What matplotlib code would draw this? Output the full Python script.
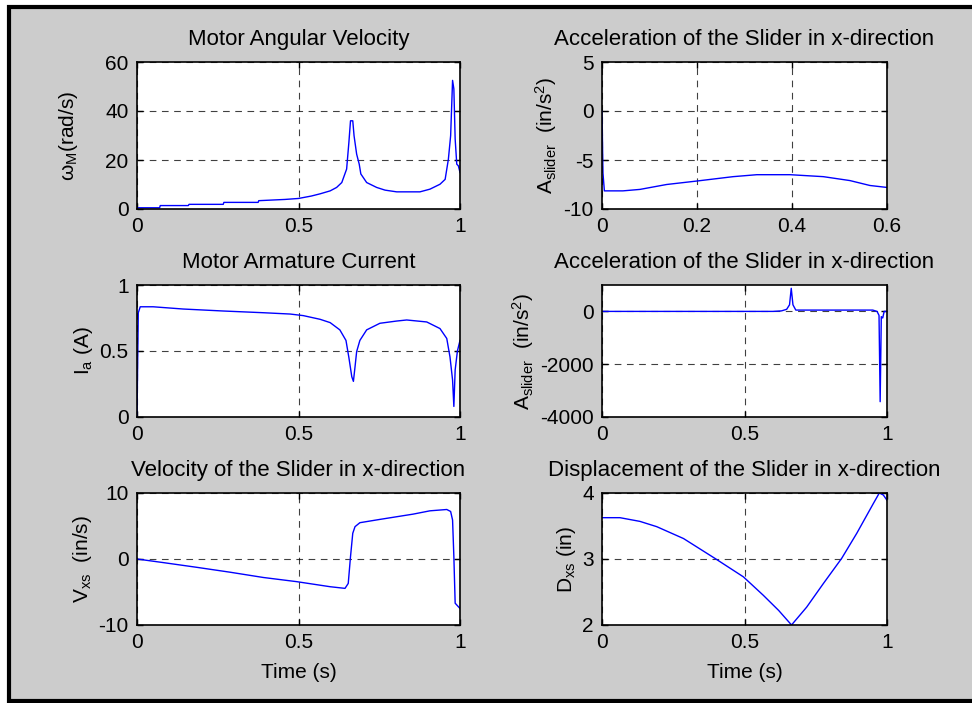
import matplotlib
matplotlib.use("Agg")
import matplotlib.pyplot as plt
from matplotlib.patches import Rectangle
from matplotlib.ticker import FormatStrFormatter, MultipleLocator

plt.rcParams['font.family'] = ['Liberation Sans', 'DejaVu Sans']
plt.rcParams['mathtext.fontset'] = 'custom'
plt.rcParams['mathtext.rm'] = 'Liberation Sans'
plt.rcParams['mathtext.it'] = 'Liberation Sans'

# ---------------- data ----------------
t1 = [0, 0.07, 0.072, 0.159, 0.161, 0.267, 0.269, 0.375, 0.377, 0.458, 0.5, 0.54, 0.567, 0.598,
      0.618, 0.634, 0.649, 0.656, 0.661, 0.668, 0.672, 0.68, 0.688, 0.693, 0.711, 0.742, 0.768,
      0.804, 0.876, 0.907, 0.938, 0.954, 0.964, 0.971, 0.977, 0.981, 0.985, 0.99, 0.995, 1.0]
w1 = [0.5, 0.5, 1.4, 1.4, 1.9, 1.9, 2.7, 2.7, 3.4, 3.9, 4.3, 5.3, 6.2, 7.4,
      8.8, 10.8, 16.3, 27.2, 36, 36, 29.9, 22.4, 18.3, 14.3, 10.8, 8.8, 7.7,
      7.0, 7.0, 8.1, 10.1, 12.1, 20.3, 29.9, 52.5, 49, 28.6, 18.3, 17.6, 14.9]

t2 = [0, 0.002, 0.005, 0.044, 0.08, 0.136, 0.199, 0.276, 0.326, 0.396, 0.466, 0.522, 0.564, 0.6]
a2 = [0.0, -6.3, -8.15, -8.15, -8.0, -7.5, -7.15, -6.7, -6.5, -6.5, -6.7, -7.1, -7.6, -7.8]

t3 = [0, 0.004, 0.01, 0.05, 0.143, 0.267, 0.391, 0.474, 0.515, 0.567, 0.598, 0.628, 0.647, 0.656,
      0.665, 0.67, 0.675, 0.68, 0.69, 0.711, 0.752, 0.804, 0.835, 0.897, 0.938, 0.959, 0.969,
      0.977, 0.981, 0.985, 0.992, 1.0]
i3 = [0.0, 0.79, 0.835, 0.835, 0.818, 0.803, 0.79, 0.78, 0.768, 0.74, 0.715, 0.66, 0.58, 0.45,
      0.305, 0.27, 0.38, 0.495, 0.58, 0.66, 0.71, 0.727, 0.735, 0.72, 0.67, 0.595, 0.455,
      0.28, 0.08, 0.356, 0.5, 0.58]

t4 = [0, 0.6, 0.63, 0.648, 0.658, 0.664, 0.67, 0.68, 0.95, 0.965, 0.972, 0.976, 0.98, 0.985, 0.99, 1.0]
a4 = [0, 0, 20, 80, 250, 875, 250, 50, 50, 0, -150, -3420, -200, -250, 0, 0]

t5 = [0, 0.082, 0.185, 0.288, 0.391, 0.494, 0.598, 0.644, 0.654, 0.661, 0.668, 0.675, 0.69,
      0.752, 0.855, 0.907, 0.959, 0.971, 0.977, 0.981, 0.985, 1.0]
v5 = [0.0, -0.55, -1.26, -2.0, -2.8, -3.43, -4.2, -4.45, -3.7, 0.35, 3.9, 4.9, 5.5,
      6.0, 6.8, 7.3, 7.5, 7.2, 5.9, 0.35, -6.7, -7.5]

t6 = [0, 0.063, 0.133, 0.192, 0.286, 0.396, 0.496, 0.566, 0.62, 0.665, 0.718, 0.777, 0.841,
      0.894, 0.952, 0.973, 0.987, 1.0]
d6 = [3.626, 3.626, 3.57, 3.49, 3.31, 3.01, 2.73, 2.45, 2.22, 2.0, 2.27, 2.63, 3.01,
      3.39, 3.84, 4.0, 3.97, 3.89]

# ---------------- figure ----------------
W, H = 972, 703
fig = plt.figure(figsize=(W / 100, H / 100), dpi=100, facecolor='white')
fig.patches.append(Rectangle((9 / W, 2 / H), 1.5, (701 - 7) / H, transform=fig.transFigure,
                             facecolor='#cccccc', edgecolor='black', linewidth=3, zorder=-10))

lx, lw_ = 137 / W, 323 / W
rx, rw = 602 / W, 285 / W
rows = [(62, 209), (285, 417), (493, 625)]

def pos(col, row):
    top, bot = rows[row]
    x, w = (lx, lw_) if col == 0 else (rx, rw)
    return [x, (H - bot) / H, w, (bot - top) / H]

specs = [
    (0, 0, t1, w1, 'Motor Angular Velocity', r'ω$_\mathregular{M}$(rad/s)', (0, 1), 0.5, (0, 60), 20, False, 18),
    (1, 0, t2, a2, 'Acceleration of the Slider in x-direction', r'A$_\mathregular{slider}$  (in/s$^\mathregular{2}$)', (0, 0.6), 0.2, (-10, 5), 5, False, 3),
    (0, 1, t3, i3, 'Motor Armature Current', r'I$_\mathregular{a}$ (A)', (0, 1), 0.5, (0, 1), 0.5, False, 3),
    (1, 1, t4, a4, 'Acceleration of the Slider in x-direction', r'A$_\mathregular{slider}$  (in/s$^\mathregular{2}$)', (0, 1), 0.5, (-4000, 1000), 2000, False, 3),
    (0, 2, t5, v5, 'Velocity of the Slider in x-direction', r'V$_\mathregular{xs}$  (in/s)', (0, 1), 0.5, (-10, 10), 10, True, 3),
    (1, 2, t6, d6, 'Displacement of the Slider in x-direction', r'D$_\mathregular{xs}$ (in)', (0, 1), 0.5, (2, 4), 1, True, 3),
]

FS = 15
for col, row, tx, yy, title, ylab, xl, xs, yl, ys, xlab, lpad in specs:
    ax = fig.add_axes(pos(col, row))
    ax.set_facecolor('white')
    ax.plot(tx, yy, color='#0000ff', lw=1.0, clip_on=True)
    ax.set_xlim(*xl)
    ax.set_ylim(*yl)
    ax.xaxis.set_major_locator(MultipleLocator(xs))
    ax.yaxis.set_major_locator(MultipleLocator(ys))
    ax.xaxis.set_major_formatter(FormatStrFormatter('%g'))
    ax.yaxis.set_major_formatter(FormatStrFormatter('%g'))
    ax.grid(True, color='black', linestyle=(0, (6, 5)), linewidth=0.8, alpha=0.75)
    ax.tick_params(direction='in', top=True, right=True, length=4, width=1, labelsize=FS)
    ax.tick_params(axis='x', pad=5.5)
    ax.tick_params(axis='y', pad=6)
    for s in ax.spines.values():
        s.set_linewidth(1.2)
    ax.set_title(title, fontsize=16, pad=12.5)
    ax.set_ylabel(ylab, fontsize=FS, labelpad=lpad)
    if xlab:
        ax.set_xlabel('Time (s)', fontsize=FS, labelpad=8.5)

fig.savefig('out.png', dpi=100, facecolor=fig.get_facecolor())
